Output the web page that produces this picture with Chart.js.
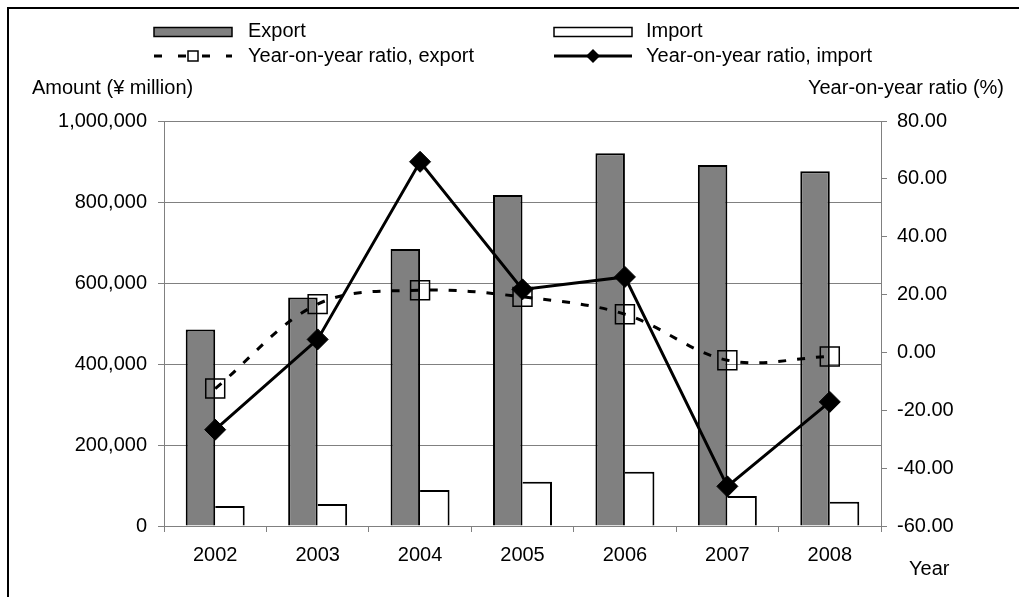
<!DOCTYPE html>
<html>
<head>
<meta charset="utf-8">
<script src="https://cdn.jsdelivr.net/npm/chart.js@4/dist/chart.umd.min.js"></script>
<style>
  html, body { margin: 0; padding: 0; background: #fff; }
  #wrap { width: 1019px; height: 597px; position: relative; }
</style>
</head>
<body>
<div id="wrap"><canvas id="c" width="1019" height="597"></canvas></div>
<script>
// Trade amounts (¥ million) and year-on-year ratios (%)
const years = ['2002', '2003', '2004', '2005', '2006', '2007', '2008'];
const exportAmount = [485300, 564400, 683700, 817100, 920200, 891300, 875700];
const importAmount = [49400, 54400, 89000, 109500, 134200, 74100, 60000];
const exportRatio = [-12.5, 16.7, 21.5, 19.2, 13.2, -2.7, -1.4];
const importRatio = [-26.7, 4.5, 65.9, 21.8, 26.1, -46.3, -17.1];

const FONT = '"Liberation Sans", Arial, sans-serif';
const GRID = '#808080';

// Frame, axis titles and the two-column legend
const decorations = {
  id: 'decorations',
  beforeDraw(chart) {
    const ctx = chart.ctx;
    ctx.save();
    ctx.fillStyle = '#fff';
    ctx.fillRect(0, 0, chart.width, chart.height);
    ctx.restore();
  },
  afterDraw(chart) {
    const ctx = chart.ctx;
    const ds = chart.data.datasets;
    ctx.save();
    // frame
    ctx.strokeStyle = '#000';
    ctx.lineWidth = 2;
    ctx.beginPath();
    ctx.moveTo(8, chart.height);
    ctx.lineTo(8, 8);
    ctx.lineTo(chart.width, 8);
    ctx.stroke();

    ctx.font = '20px ' + FONT;
    ctx.fillStyle = '#000';
    ctx.textBaseline = 'middle';

    // axis titles
    ctx.textAlign = 'left';
    ctx.fillText('Amount (¥ million)', 32, 88);
    ctx.textAlign = 'right';
    ctx.fillText('Year-on-year ratio (%)', 1004, 88);
    ctx.textAlign = 'left';
    ctx.fillText('Year', 909, 569);

    // legend
    const cols = [154, 554];
    const txt = [248, 646];
    const rows = [32, 56];
    const items = [
      { ds: ds[0], col: 0, row: 0 },
      { ds: ds[1], col: 1, row: 0 },
      { ds: ds[2], col: 0, row: 1 },
      { ds: ds[3], col: 1, row: 1 }
    ];
    items.forEach(it => {
      const x0 = cols[it.col], x1 = x0 + 78, y = rows[it.row];
      const d = it.ds;
      if (d.type === 'bar') {
        ctx.fillStyle = d.backgroundColor;
        ctx.fillRect(x0, y - 4.5, x1 - x0, 9);
        ctx.strokeStyle = d.borderColor;
        ctx.lineWidth = 1.5;
        ctx.setLineDash([]);
        ctx.strokeRect(x0, y - 4.5, x1 - x0, 9);
      } else {
        ctx.strokeStyle = d.borderColor;
        ctx.lineWidth = d.borderWidth;
        ctx.setLineDash(d.borderDash ? [8, 16] : []);
        ctx.beginPath();
        ctx.moveTo(x0, y);
        ctx.lineTo(x1, y);
        ctx.stroke();
        ctx.setLineDash([]);
        const cx = (x0 + x1) / 2;
        if (d.pointStyle === 'rect') {
          ctx.fillStyle = '#fff';
          ctx.fillRect(cx - 5, y - 5, 10, 10);
          ctx.lineWidth = 1.5;
          ctx.strokeRect(cx - 5, y - 5, 10, 10);
        } else {
          ctx.fillStyle = d.pointBackgroundColor;
          ctx.beginPath();
          ctx.moveTo(cx - 7, y);
          ctx.lineTo(cx, y - 7);
          ctx.lineTo(cx + 7, y);
          ctx.lineTo(cx, y + 7);
          ctx.closePath();
          ctx.fill();
        }
      }
      ctx.fillStyle = '#000';
      ctx.textAlign = 'left';
      ctx.fillText(d.label, txt[it.col], y - (it.row === 0 ? 1 : 0));
    });
    ctx.restore();
  }
};

new Chart(document.getElementById('c'), {
  data: {
    labels: years,
    datasets: [
      {
        type: 'bar',
        label: 'Export',
        data: exportAmount,
        yAxisID: 'y',
        backgroundColor: '#808080',
        borderColor: '#000',
        borderWidth: 2,
        order: 3
      },
      {
        type: 'bar',
        label: 'Import',
        data: importAmount,
        yAxisID: 'y',
        backgroundColor: '#fff',
        borderColor: '#000',
        borderWidth: { top: 2, right: 2, left: 0, bottom: 0 },
        order: 3
      },
      {
        type: 'line',
        label: 'Year-on-year ratio, export',
        data: exportRatio,
        yAxisID: 'y2',
        borderColor: '#000',
        borderWidth: 3,
        borderDash: [8, 11],
        tension: 0.35,
        pointStyle: 'rect',
        pointRadius: 13.4,
        pointBorderWidth: 1.5,
        pointBorderColor: '#000',
        pointBackgroundColor: 'rgba(0,0,0,0)',
        order: 2
      },
      {
        type: 'line',
        label: 'Year-on-year ratio, import',
        data: importRatio,
        yAxisID: 'y2',
        borderColor: '#000',
        borderWidth: 3,
        tension: 0,
        pointStyle: 'rectRot',
        pointRadius: 10.5,
        pointBorderWidth: 1,
        pointBorderColor: '#000',
        pointBackgroundColor: '#000',
        order: 1
      }
    ]
  },
  options: {
    responsive: false,
    animation: false,
    devicePixelRatio: 1,
    layout: { padding: { top: 121, left: 0, right: 0, bottom: 0 } },
    plugins: {
      legend: { display: false },
      tooltip: { enabled: false }
    },
    datasets: {
      bar: { categoryPercentage: 0.576, barPercentage: 1.0 }
    },
    scales: {
      x: {
        type: 'category',
        offset: true,
        afterFit: s => { s.height = 71; },
        grid: { offset: true, drawOnChartArea: false, drawTicks: true, tickLength: 6, color: GRID, lineWidth: 1 },
        border: { color: GRID, width: 1 },
        ticks: { color: '#000', font: { family: FONT, size: 20 }, padding: 11, maxRotation: 0 }
      },
      y: {
        position: 'left',
        min: 0,
        max: 1000000,
        afterFit: s => { s.width = 164; },
        grid: { color: GRID, lineWidth: 1, tickLength: 6, drawTicks: true },
        border: { color: GRID, width: 1 },
        ticks: {
          stepSize: 200000,
          color: '#000',
          font: { family: FONT, size: 20 },
          padding: 11,
          callback: v => v.toLocaleString('en-US')
        }
      },
      y2: {
        position: 'right',
        min: -60,
        max: 80,
        afterFit: s => { s.width = 138; },
        grid: { drawOnChartArea: false, color: GRID, lineWidth: 1, tickLength: 6, drawTicks: true },
        border: { color: GRID, width: 1 },
        ticks: {
          stepSize: 20,
          color: '#000',
          font: { family: FONT, size: 20 },
          padding: 10,
          callback: v => v.toFixed(2)
        }
      }
    }
  },
  plugins: [decorations]
});
</script>
</body>
</html>
